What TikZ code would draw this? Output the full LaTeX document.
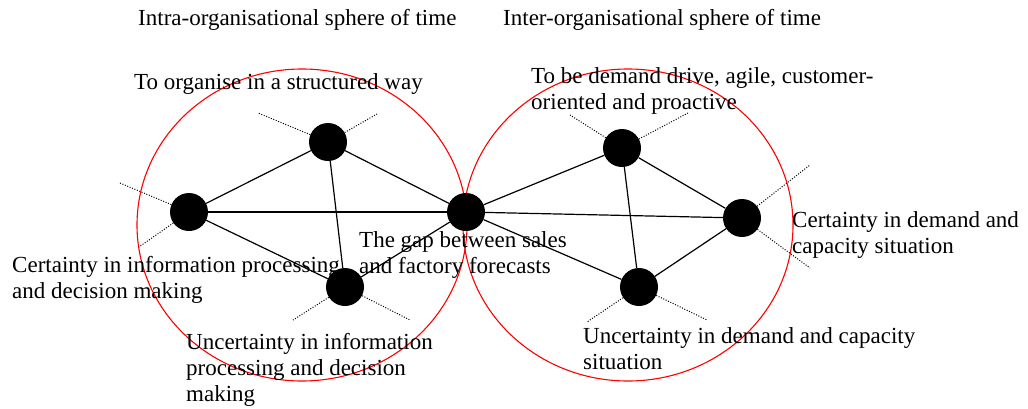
\documentclass[tikz,border=0pt]{standalone}
\usepackage{fontspec}
\setmainfont{Liberation Serif}
\tikzset{
	hub/.style={circle, fill=black, inner sep=0pt, minimum size=38pt},
	remark/.style={anchor=base west, inner sep=0pt, align=left, font=\fontsize{23}{26}\selectfont},
	whisker/.style={line width=1pt, dash pattern=on 1pt off 1.6pt},
	link/.style={line width=1.2pt},
}

\begin{document}
\begin{tikzpicture}[x=1pt, y=-1pt]
		\useasboundingbox (0, 0) rectangle (1028, 408);
		% the two spheres
		\draw [red, line width=1.1pt] (302, 225) ellipse [x radius=165pt, y radius=156pt];
		\draw [red, line width=1.1pt] (628, 225) ellipse [x radius=165pt, y radius=156pt];
		% points
		\node [hub] (L) at (189, 212) {};
		\node [hub] (T) at (328, 142) {};
		\node [hub] (B) at (345, 287) {};
		\node [hub] (C) at (466, 212) {};
		\node [hub] (TR) at (622, 148) {};
		\node [hub] (R) at (742, 218) {};
		\node [hub] (BR) at (639, 287) {};
		% links
		\draw [link] (L) -- (T);
		\draw [link] (L) -- (C);
		\draw [link] (L) -- (B);
		\draw [link] (T) -- (C);
		\draw [link] (T) -- (B);
		\draw [link] (B) -- (C);
		\draw [link] (C) -- (TR);
		\draw [link] (C) -- (R);
		\draw [link] (C) -- (BR);
		\draw [link] (TR) -- (R);
		\draw [link] (TR) -- (BR);
		\draw [link] (BR) -- (R);
		% dotted ends
		\coordinate (l1) at (120, 183);
		\coordinate (l2) at (139, 247);
		\coordinate (t1) at (258, 113);
		\coordinate (t2) at (377, 114);
		\coordinate (b1) at (293, 320);
		\coordinate (b2) at (410, 320);
		\coordinate (tr1) at (570, 115);
		\coordinate (tr2) at (688, 113);
		\coordinate (r1) at (810, 165);
		\coordinate (r2) at (810, 268);
		\coordinate (br1) at (587, 322);
		\coordinate (br2) at (707, 320);
		\draw [whisker] (L) -- (l1);
		\draw [whisker] (L) -- (l2);
		\draw [whisker] (T) -- (t1);
		\draw [whisker] (T) -- (t2);
		\draw [whisker] (B) -- (b1);
		\draw [whisker] (B) -- (b2);
		\draw [whisker] (TR) -- (tr1);
		\draw [whisker] (TR) -- (tr2);
		\draw [whisker] (R) -- (r1);
		\draw [whisker] (R) -- (r2);
		\draw [whisker] (BR) -- (br1);
		\draw [whisker] (BR) -- (br2);
		% texts (base is the last line)
		\node [remark] (intra) at (138, 25) {Intra-organisational sphere of time};
		\node [remark] (inter) at (503, 25) {Inter-organisational sphere of time};
		\node [remark] (struct) at (134, 89) {To organise in a structured way};
		\node [remark] (agile) at (531, 109) {To be demand drive, agile, customer-\\oriented and proactive};
		\node [remark] (certL) at (12, 298) {Certainty in information processing\\and decision making};
		\node [remark] (gap) at (359, 273) {The gap between sales\\and factory forecasts};
		\node [remark] (uncL) at (186, 401) {Uncertainty in information\\processing and decision\\making};
		\node [remark] (uncR) at (583, 369) {Uncertainty in demand and capacity\\situation};
		\node [remark] (certR) at (792, 253) {Certainty in demand and\\capacity situation};
	\end{tikzpicture}
\end{document}
